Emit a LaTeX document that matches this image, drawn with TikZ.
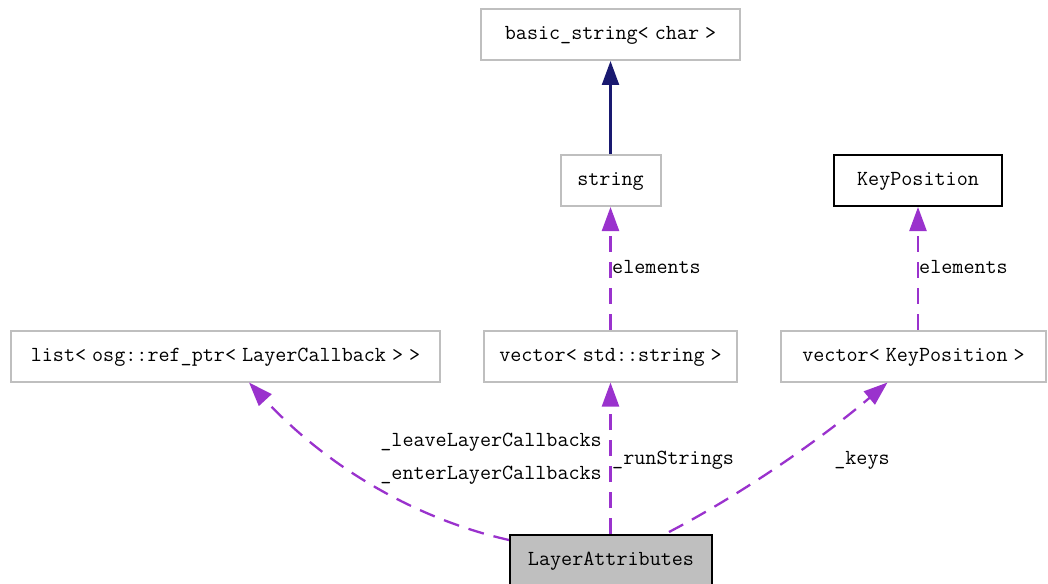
\documentclass[tikz,border=0pt]{standalone}
\usetikzlibrary{arrows.meta}
\definecolor{boxgray}{HTML}{BFBFBF}
\definecolor{usage}{HTML}{9A32CD}
\definecolor{inherit}{HTML}{191970}
\newcommand{\diagfont}{\ttfamily\fontsize{21.5}{25}\selectfont}
\begin{document}
% narrower interword space for the typewriter face (fontdimen changes are global)
{\diagfont\fontdimen2\font=6pt}%
\begin{tikzpicture}[x=1pt,y=-1pt,
  font=\diagfont,
  cls/.style={draw=boxgray, line width=2pt, fill=white, minimum height=51pt,
    inner sep=0pt, text height=14pt, text depth=4pt},
  focus/.style={cls, draw=black, fill=boxgray},
  ext/.style={cls, draw=black},
  lbl/.style={inner sep=0pt, text height=14pt, text depth=4pt},
  tip/.style={-{Triangle[length=24pt,width=17pt]}},
  inh/.style={tip, draw=inherit, line width=2.3pt},
  use/.style={tip, draw=usage, line width=2.3pt, dash pattern=on 16pt off 10pt}]
\useasboundingbox (0,0) rectangle (1048,583);
\clip (0,0) rectangle (1048,583);

% classes
\node[cls, minimum width=259pt] (bs) at (610.5,34.5) {basic\_string< char >};
\node[cls, minimum width=100pt] (str) at (610.5,180.5) {string};
\node[ext, minimum width=168pt] (kp) at (918,180.5) {KeyPosition};
\node[cls, minimum width=429pt] (ls) at (225.5,356) {list< osg::ref\_ptr< LayerCallback > >};
\node[cls, minimum width=253pt] (vs) at (610.5,356) {vector< std::string >};
\node[cls, minimum width=265pt] (vk) at (913.5,356) {vector< KeyPosition >};
\node[focus, minimum width=202pt, minimum height=50pt] (la) at (611,560) {LayerAttributes};

% inheritance
\draw[inh] (str.north) -- (bs.south);

% members
\draw[use] (vs.north) -- (str.south);
\draw[use] (kp.south |- vk.north) -- (kp.south);
\draw[use] (vs.south |- la.north) -- (vs.south);
\draw[use] ([yshift=-6pt]la.north west) .. controls (420,520) and (330,470) .. ([xshift=23.5pt]ls.south);
\draw[use] ([xshift=-44pt,yshift=2pt]la.north east) .. controls (740,495) and (820,440) .. ([xshift=-26pt]vk.south);

% member names
\node[lbl, anchor=west] (e1) at (612,268) {elements};
\node[lbl, anchor=west] (e2) at (919,268) {elements};
\node[lbl, anchor=east] (lv) at (602,441) {\_leaveLayerCallbacks};
\node[lbl, anchor=east] (en) at (602,474) {\_enterLayerCallbacks};
\node[lbl, anchor=west] (rs) at (612,459) {\_runStrings};
\node[lbl] (ks) at (862,459) {\_keys};
\end{tikzpicture}
\end{document}
